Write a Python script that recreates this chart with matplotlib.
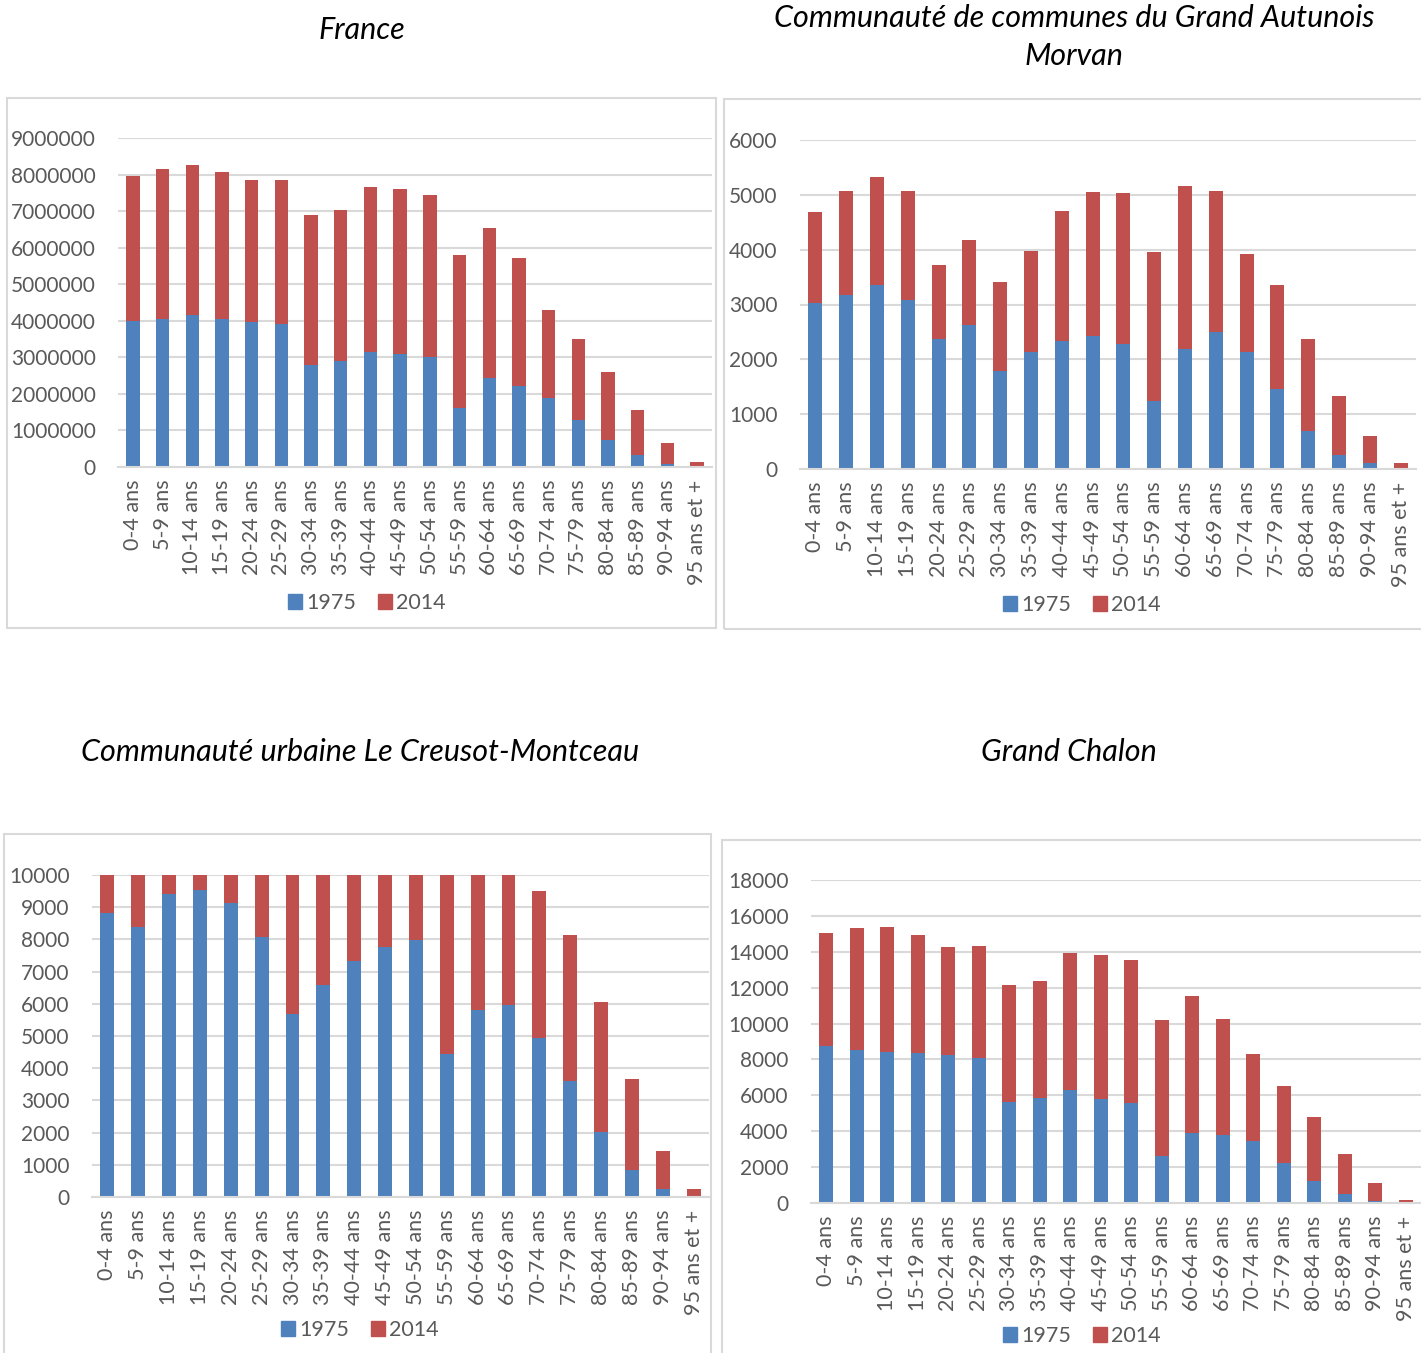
import numpy as np
import matplotlib
matplotlib.use("Agg")
import matplotlib.pyplot as plt
import matplotlib.patches as mpatches
from matplotlib.ticker import FuncFormatter

plt.rcParams['font.family'] = ['Lato', 'DejaVu Sans']

W, H = 1421, 1353

AGES = ["0-4 ans", "5-9 ans", "10-14 ans", "15-19 ans", "20-24 ans", "25-29 ans",
        "30-34 ans", "35-39 ans", "40-44 ans", "45-49 ans", "50-54 ans", "55-59 ans",
        "60-64 ans", "65-69 ans", "70-74 ans", "75-79 ans", "80-84 ans", "85-89 ans",
        "90-94 ans", "95 ans et +"]

# France
france_1975 = [3990000, 4050000, 4150000, 4050000, 3970000, 3920000, 2780000, 2910000,
               3150000, 3100000, 3020000, 1610000, 2430000, 2220000, 1880000, 1280000,
               730000, 320000, 90000, 20000]
france_2014 = [3960000, 4110000, 4100000, 4010000, 3880000, 3930000, 4110000, 4130000,
               4510000, 4500000, 4410000, 4200000, 4120000, 3490000, 2420000, 2220000,
               1880000, 1250000, 560000, 120000]

# CC du Grand Autunois Morvan
autun_1975 = [3021, 3168, 3358, 3083, 2379, 2618, 1786, 2128, 2343, 2422, 2275, 1248,
              2183, 2495, 2141, 1450, 691, 257, 110, 12]
autun_2014 = [1658, 1902, 1963, 1993, 1346, 1559, 1621, 1848, 2354, 2624, 2753, 2709,
              2985, 2581, 1786, 1914, 1682, 1070, 496, 98]

# CU Le Creusot-Montceau (axis capped at 10000)
creusot_1975 = [8827, 8390, 9408, 9533, 9138, 8079, 5670, 6594, 7331, 7778, 7985, 4434,
                5815, 5961, 4953, 3614, 2015, 852, 239, 31]
creusot_2014 = [4900, 5300, 5400, 5500, 4300, 4500, 4600, 5400, 6300, 6800, 7000, 7100,
                7300, 6300, 4559, 4527, 4029, 2814, 1184, 229]

# Grand Chalon
chalon_1975 = [8766, 8523, 8430, 8374, 8243, 8093, 5626, 5850, 6318, 5794, 5570, 2617,
               3888, 3794, 3439, 2206, 1215, 523, 93, 19]
chalon_2014 = [6299, 6804, 6972, 6579, 6000, 6243, 6505, 6524, 7589, 8038, 7963, 7570,
               7626, 6468, 4860, 4336, 3589, 2225, 1047, 168]

BLUE = '#4F81BD'
RED = '#C0504D'
GRID = '#D9D9D9'
TXT = '#595959'

panels = [
    dict(title="France", s1=france_1975, s2=france_2014, ymax=9000000, step=1000000,
         ax=(118, 712, 138, 467), box=(7, 98, 716, 628), tpos=(362, 30), leg=(367, 603)),
    dict(title="Communauté de communes du Grand Autunois\nMorvan", s1=autun_1975, s2=autun_2014,
         ymax=6000, step=1000,
         ax=(800, 1416, 140, 469), box=(724, 99, 1430, 629), tpos=(1074, 37), leg=(1082, 605)),
    dict(title="Communauté urbaine Le Creusot-Montceau", s1=creusot_1975, s2=creusot_2014,
         ymax=10000, step=1000,
         ax=(92, 709, 875, 1197), box=(4, 834, 711, 1360), tpos=(360, 752), leg=(360, 1330)),
    dict(title="Grand Chalon", s1=chalon_1975, s2=chalon_2014, ymax=18000, step=2000,
         ax=(811, 1421, 880, 1203), box=(722, 840, 1430, 1360), tpos=(1069, 752), leg=(1082, 1336)),
]

fig = plt.figure(figsize=(W / 100, H / 100), dpi=100)
fig.patch.set_facecolor('white')

x = np.arange(len(AGES))
for p in panels:
    bx0, by0, bx1, by1 = p['box']
    fig.add_artist(mpatches.Rectangle((bx0 / W, 1 - by1 / H), (bx1 - bx0) / W, (by1 - by0) / H,
                                      transform=fig.transFigure, fill=False,
                                      edgecolor=GRID, linewidth=1.5))

    l, r, t, b = p['ax']
    ax = fig.add_axes([l / W, 1 - b / H, (r - l) / W, (b - t) / H])
    ax.bar(x, p['s1'], width=0.45, color=BLUE, label='1975', zorder=2)
    ax.bar(x, p['s2'], width=0.45, bottom=p['s1'], color=RED, label='2014', zorder=2)
    ax.set_xlim(-0.5, len(AGES) - 0.5)
    ax.set_ylim(0, p['ymax'])
    ax.set_yticks(np.arange(0, p['ymax'] + 1, p['step']))
    ax.yaxis.set_major_formatter(FuncFormatter(lambda v, pos: f"{int(v)}"))
    ax.set_xticks(x)
    ax.set_xticklabels(AGES, rotation=90)
    ax.tick_params(axis='both', length=0, labelsize=15, labelcolor=TXT)
    ax.tick_params(axis='x', labelsize=15.5)
    ax.tick_params(axis='y', pad=16)
    ax.tick_params(axis='x', pad=9)
    ax.grid(axis='y', color=GRID, linewidth=1.5, zorder=0)
    ax.set_axisbelow(True)
    for s in ['top', 'right', 'left']:
        ax.spines[s].set_visible(False)
    ax.spines['bottom'].set_color(GRID)
    ax.spines['bottom'].set_linewidth(1.5)

    tx, ty = p['tpos']
    fig.text(tx / W, 1 - ty / H, p['title'], ha='center', va='center',
             fontsize=22, style='italic', color='black', linespacing=1.4)

    lx, ly = p['leg']
    fig.legend(handles=[mpatches.Patch(color=BLUE, label='1975'),
                        mpatches.Patch(color=RED, label='2014')],
               loc='center', bbox_to_anchor=(lx / W, 1 - ly / H), ncol=2, frameon=False,
               fontsize=15.5, labelcolor=TXT, handlelength=0.65, handleheight=0.65,
               handletextpad=0.2, columnspacing=1.0, borderpad=0)

fig.savefig('out.png', dpi=100, facecolor='white')
